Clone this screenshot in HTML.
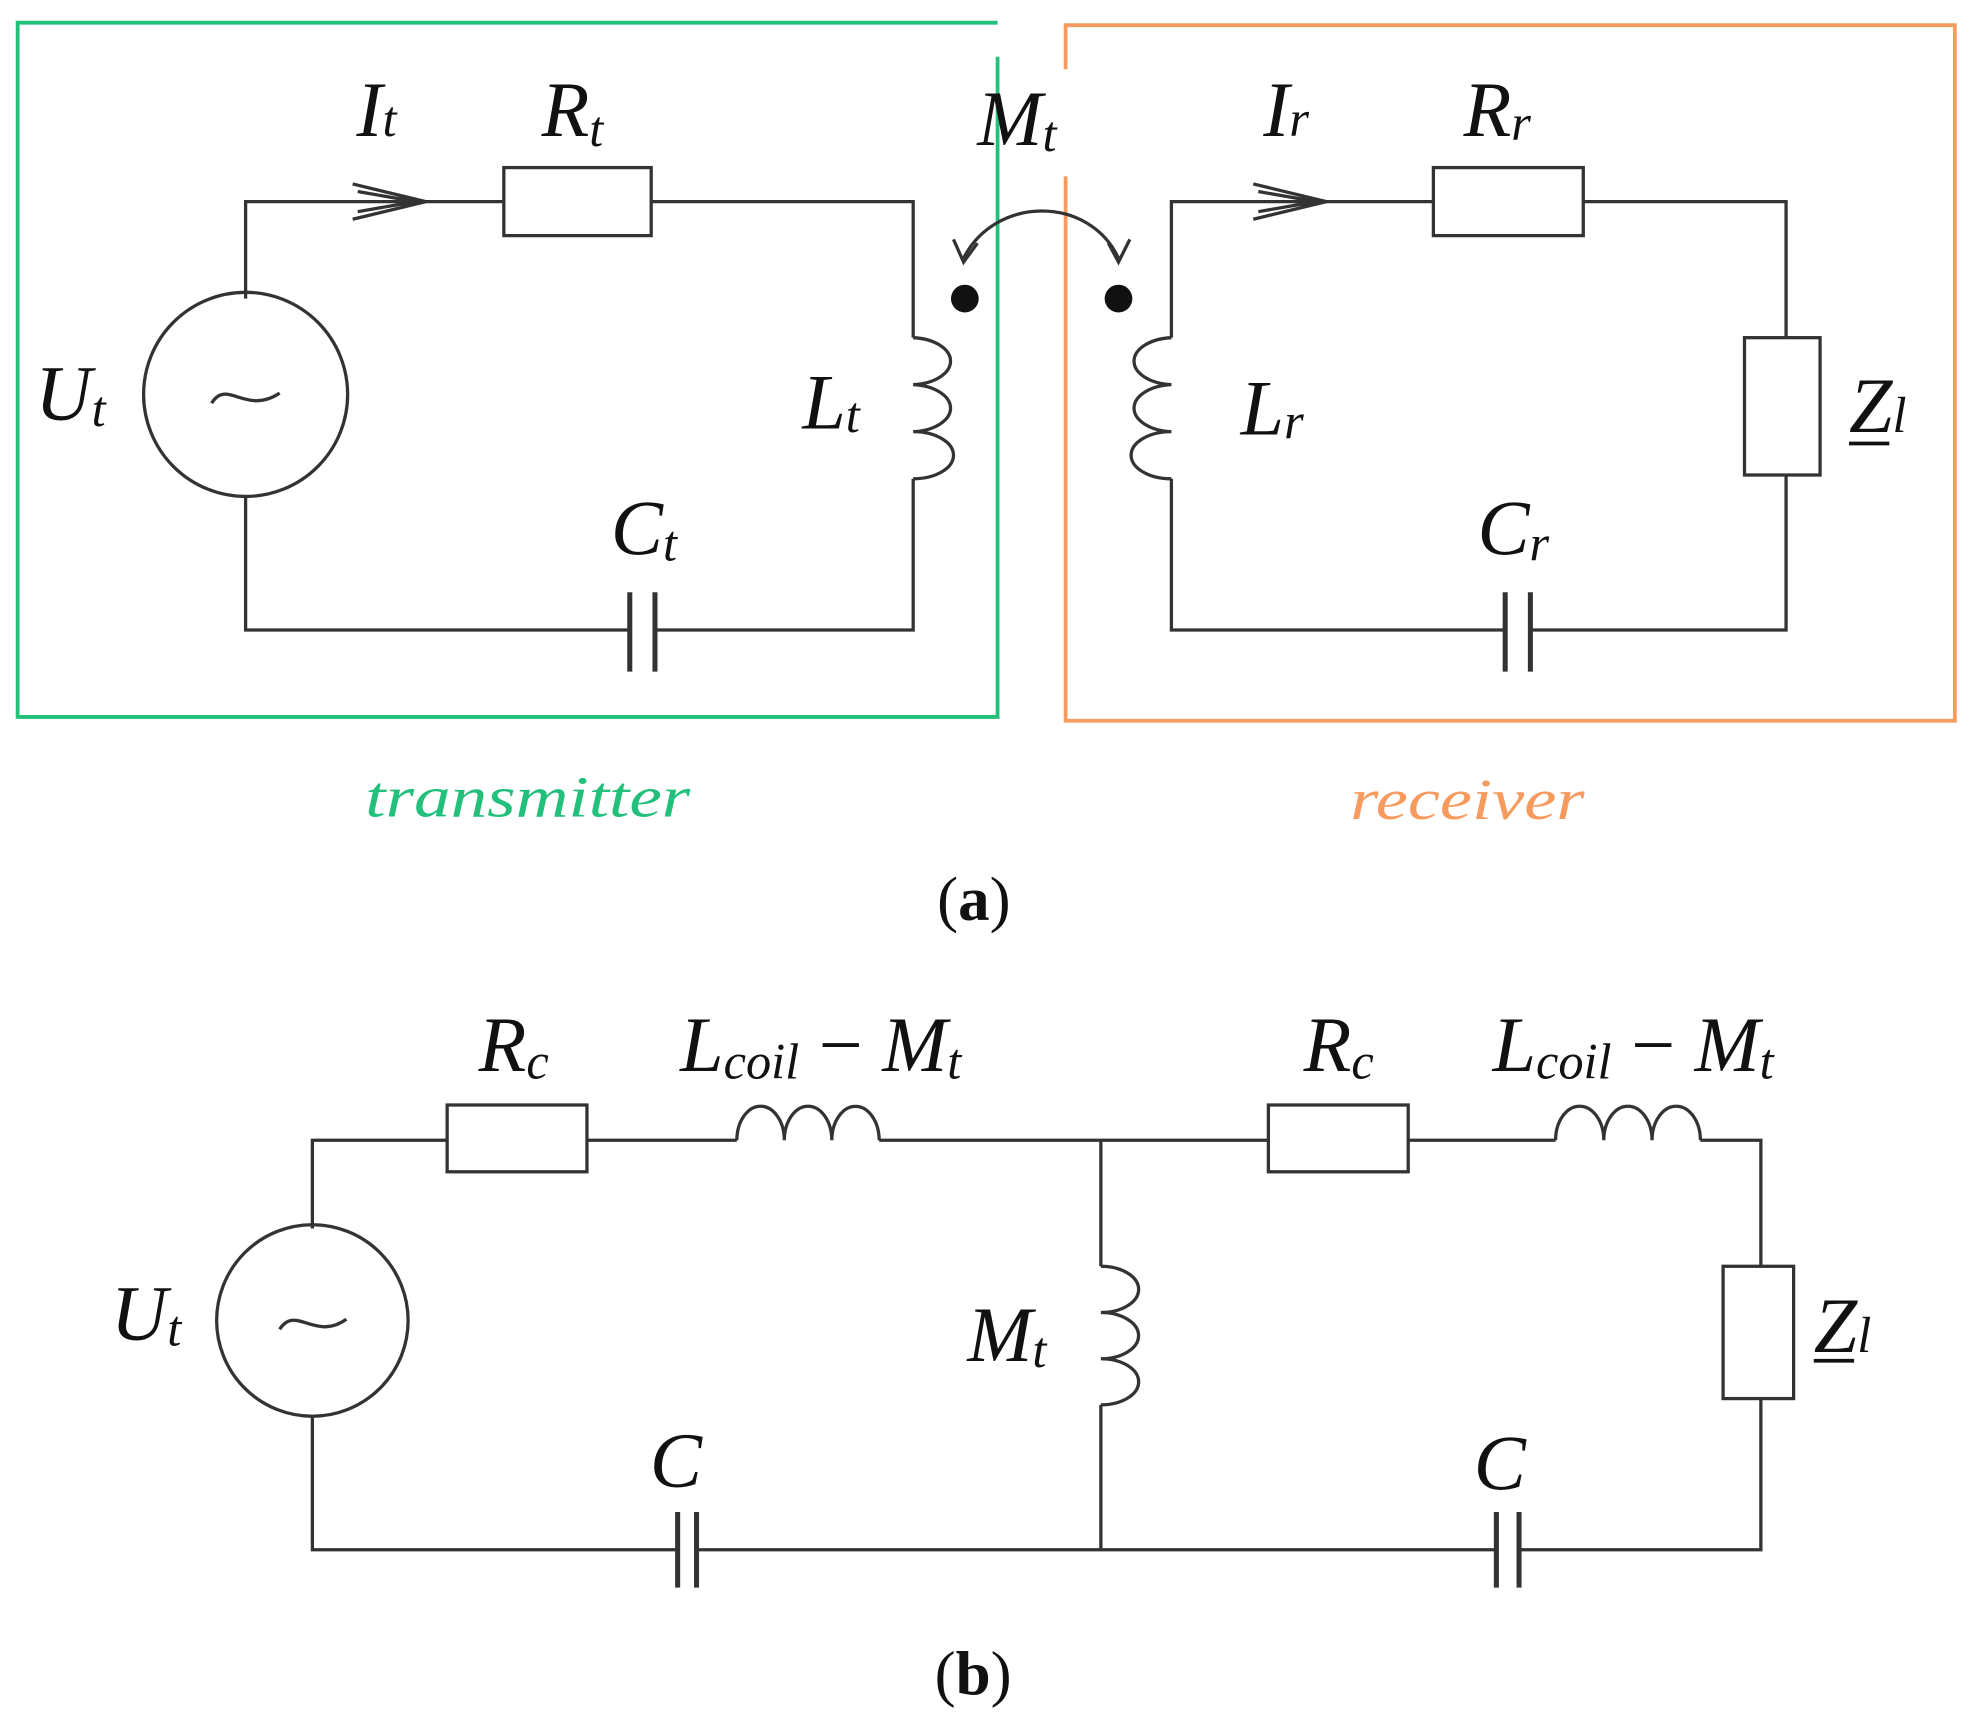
<!DOCTYPE html>
<html><head><meta charset="utf-8"><style>
html,body{margin:0;padding:0;background:#fff;}
svg{display:block;}
text{font-family:"Liberation Serif",serif;font-style:italic;fill:#111;}
.s{font-size:40px;}
</style></head><body>
<svg width="1975" height="1735" viewBox="0 0 1568 1377" preserveAspectRatio="none" xmlns="http://www.w3.org/2000/svg">
<g fill="none" stroke-width="3">
<path d="M792,45 V569 H14 V18 H792" stroke="#22c07a"/>
<path d="M846,140 V572 H1552 V20 H846 V55" stroke="#f79a5e"/>
</g>
<g fill="none" stroke="#333" stroke-width="2.6">
<path d="M195,237 V160 H400 M517,160 H725 V268 M725,380 V500 H520 M500,500 H195 V393"/>
<rect x="400" y="133" width="117" height="54"/>
<circle cx="195" cy="313" r="81"/>
<path d="M168,320 C180,300 195,330 222,312"/>
<path d="M280,146 L338,160 L280,174 M284,152 L330,160 L284,168"/>
<path d="M725,268 a32,18.7 0 0 1 0,37.3 a32,18.7 0 0 1 0,37.3 a32,18.7 0 0 1 0,37.4"/>
<path d="M500,470 V533 M520,470 V533" stroke-width="4"/>
<path d="M930,268 V160 H1138 M1257,160 H1418 V268 M1418,377 V500 H1215 M1195,500 H930 V380"/>
<rect x="1138" y="133" width="119" height="54"/>
<rect x="1385" y="268" width="60" height="109"/>
<path d="M995,146 L1053,160 L995,174 M999,152 L1045,160 L999,168"/>
<path d="M930,268 a32,18.7 0 0 0 0,37.3 a32,18.7 0 0 0 0,37.3 a32,18.7 0 0 0 0,37.4"/>
<path d="M1195,470 V533 M1215,470 V533" stroke-width="4"/>
<path d="M765,205 C790,155 865,155 888,205"/>
<path d="M757,190 L765,208 L776,193 M880,193 L888,208 L897,190"/>
<path d="M248,975 V905 H355 M466,905 H585 M698,905 H1007 M1118,905 H1235 M1350,905 H1398 V1005 M1398,1110 V1230 H1206 M1188,1230 H553 M538,1230 H248 V1124 M874,905 V1005 M874,1115 V1230"/>
<rect x="355" y="877" width="111" height="53"/>
<rect x="1007" y="877" width="111" height="53"/>
<rect x="1368" y="1005" width="56" height="105"/>
<circle cx="248" cy="1048" r="76"/>
<path d="M222,1055 C235,1035 250,1065 275,1047"/>
<path d="M585,905 a18.85,27 0 0 1 37.7,0 a18.85,27 0 0 1 37.7,0 a18.8,27 0 0 1 37.6,0"/>
<path d="M1235,905 a19.15,27 0 0 1 38.3,0 a19.15,27 0 0 1 38.3,0 a19.2,27 0 0 1 38.4,0"/>
<path d="M874,1005 a30,18.35 0 0 1 0,36.7 a30,18.35 0 0 1 0,36.7 a30,18.3 0 0 1 0,36.6"/>
<path d="M538,1200 V1260 M553,1200 V1260 M1188,1200 V1260 M1206,1200 V1260" stroke-width="4"/>
</g>
<circle cx="766" cy="237" r="11" fill="#111"/>
<circle cx="888" cy="237" r="11" fill="#111"/>
<g font-size="62">
<text x="283" y="108">I<tspan class="s">t</tspan></text>
<text x="430" y="108">R<tspan class="s" dy="8">t</tspan></text>
<text x="776" y="115">M<tspan class="s" dy="5">t</tspan></text>
<text x="28" y="333">U<tspan class="s" dy="5">t</tspan></text>
<text x="637" y="340">L<tspan class="s" dy="3">t</tspan></text>
<text x="485" y="440">C<tspan class="s" dy="5">t</tspan></text>
<text x="1003" y="108">I<tspan class="s">r</tspan></text>
<text x="1162" y="108">R<tspan class="s" dy="3">r</tspan></text>
<text x="985" y="345">L<tspan class="s" dy="3">r</tspan></text>
<text x="1173" y="440">C<tspan class="s" dy="5">r</tspan></text>
<text x="1468" y="343">Z<tspan class="s">l</tspan></text>
<line x1="1468" y1="352" x2="1500" y2="352" stroke="#111" stroke-width="3"/>
<text x="290" y="648" font-size="46" textLength="258" lengthAdjust="spacingAndGlyphs" style="fill:#22c07a">transmitter</text>
<text x="1072" y="650" font-size="46" textLength="186" lengthAdjust="spacingAndGlyphs" style="fill:#f79a5e">receiver</text>
<text x="744" y="730" font-size="50" style="font-style:normal">(<tspan font-weight="bold">a</tspan>)</text>
<text x="380" y="850">R<tspan class="s" dy="6">c</tspan></text>
<text x="540" y="850">L<tspan class="s" dy="6">coil</tspan><tspan dy="-6" style="font-style:normal"> − </tspan>M<tspan class="s" dy="6">t</tspan></text>
<text x="1035" y="850">R<tspan class="s" dy="6">c</tspan></text>
<text x="1185" y="850">L<tspan class="s" dy="6">coil</tspan><tspan dy="-6" style="font-style:normal"> − </tspan>M<tspan class="s" dy="6">t</tspan></text>
<text x="88" y="1063">U<tspan class="s" dy="5">t</tspan></text>
<text x="768" y="1080">M<tspan class="s" dy="5">t</tspan></text>
<text x="516" y="1180">C</text>
<text x="1170" y="1182">C</text>
<text x="1440" y="1073">Z<tspan class="s">l</tspan></text>
<line x1="1440" y1="1080" x2="1472" y2="1080" stroke="#111" stroke-width="3"/>
<text x="742" y="1345" font-size="50" style="font-style:normal">(<tspan font-weight="bold">b</tspan>)</text>
</g>
</svg>
</body></html>
